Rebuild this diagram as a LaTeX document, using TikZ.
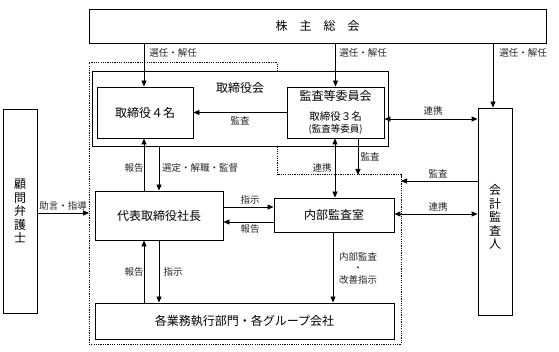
\documentclass[tikz,border=0pt]{standalone}
\usepackage{fontspec}
\setmainfont{Noto Sans CJK JP}
\usetikzlibrary{arrows.meta}
\newcommand{\fsz}[1]{\fontsize{#1}{#1}\selectfont}
\begin{document}
\begin{tikzpicture}[x=1pt,y=-1pt,
  box/.style={draw, line width=0.9pt, inner sep=0pt, font=\fsz{12}},
  arr/.style={line width=0.9pt, -{Triangle[length=6pt,width=5pt]}},
  darr/.style={line width=0.9pt, {Triangle[length=6pt,width=5pt]}-{Triangle[length=6pt,width=5pt]}},
  lab/.style={font=\fsz{9.5}, inner sep=1pt, text=black!85},
  vtext/.style={align=center, inner sep=0pt, font=\fontsize{12}{13.5}\selectfont},
  dotline/.style={line width=1pt, dash pattern=on 1.2pt off 1.1pt}
]
\useasboundingbox (0,0) rectangle (559,352);

% dotted region
\coordinate (dTL) at (89,63);
\coordinate (dTM) at (277,63);
\coordinate (dMM) at (277,175);
\coordinate (dMR) at (401,175);
\coordinate (dBR) at (401,344);
\coordinate (dBL) at (89,344);
\draw[dotline] (dTL) -- (dTM) -- (dMM) -- (dMR) -- (dBR) -- (dBL) -- cycle;

% helper coordinates
\coordinate (xA) at (144,0);
\coordinate (xB) at (159,0);
\coordinate (xC) at (335,0);
\coordinate (xC2) at (333,0);
\coordinate (xD) at (358,0);
\coordinate (xE) at (493,0);
\coordinate (yR) at (0,119);
\coordinate (yS) at (0,181);
\coordinate (yT) at (0,214);
\coordinate (yU) at (0,207);
\coordinate (yV) at (0,222);
\coordinate (yW) at (0,213);

% boxes
\node[box, fill=white, minimum width=457pt, minimum height=34pt] (soukai) at (317.5,26) {株　主　総　会};
\node[box, fill=white, minimum width=296pt, minimum height=75pt] (torikai) at (240,108.5) {};
\node[font=\fsz{12}, inner sep=0pt] (torikaiT) at (240,88) {取締役会};
\node[box, minimum width=96pt, minimum height=51pt] (tori4) at (145,112.5) {取締役４名};
\node[box, minimum width=97pt, minimum height=51pt, align=center] (kansa) at (335.5,112.5)
  {\fsz{12}監査等委員会\\[8pt]\fsz{10.5}取締役３名\\[0pt]\fsz{9.5}(監査等委員)};
\node[box, minimum width=34pt, minimum height=207pt] (kaikei) at (495,211.5) {};
\node[vtext] (kaikeiT) at (495,217) {会\\計\\監\\査\\人};
\node[box, minimum width=34pt, minimum height=204pt] (komon) at (20,211) {};
\node[vtext] (komonT) at (20,211) {顧\\問\\弁\\護\\士};
\node[box, minimum width=128pt, minimum height=49pt] (daihyo) at (159,215.5) {代表取締役社長};
\node[box, minimum width=120pt, minimum height=34pt] (naibu) at (334,215) {内部監査室};
\node[box, minimum width=299pt, minimum height=36pt] (gyomu) at (244.5,321) {各業務執行部門・各グループ会社};

% connectors
\draw[arr] (xA |- soukai.south) -- (xA |- tori4.north);
\node[lab] (l1) at (173,53) {選任・解任};
\draw[arr] (kansa.north |- soukai.south) -- (kansa.north);
\node[lab] (l2) at (363,53) {選任・解任};
\draw[arr] (xE |- soukai.south) -- (xE |- kaikei.north);
\node[lab] (l3) at (523,53) {選任・解任};

\draw[arr] (kansa.west) -- (tori4.east);
\node[lab] (l4) at (240,121) {監査};
\draw[darr] (kansa.east |- yR) -- (kaikei.west |- yR);
\node[lab] (l5) at (433,111) {連携};
\draw[arr] (kaikei.west |- yS) -- (dMR |- yS);
\node[lab] (l6) at (438,174) {監査};
\draw[darr] (naibu.east |- yT) -- (kaikei.west |- yT);
\node[lab] (l7) at (438,207) {連携};

\draw[arr] (xD |- kansa.south) -- (xD |- dMR);
\node[lab] (l8) at (370,157) {監査};
\draw[darr] (xC |- kansa.south) -- (xC |- naibu.north);
\node[lab] (l9) at (322,168) {連携};

\draw[arr] (xA |- daihyo.north) -- (xA |- tori4.south);
\node[lab] (l10) at (134,168) {報告};
\draw[arr] (xB |- torikai.south) -- (xB |- daihyo.north);
\node[lab] (l11) at (200,168) {選定・解職・監督};

\draw[arr] (daihyo.east |- yU) -- (naibu.west |- yU);
\node[lab] (l12) at (250,200) {指示};
\draw[arr] (naibu.west |- yV) -- (daihyo.east |- yV);
\node[lab] (l13) at (250,229) {報告};

\draw[arr] (xA |- gyomu.north) -- (xA |- daihyo.south);
\node[lab] (l14) at (134,272) {報告};
\draw[arr] (xB |- daihyo.south) -- (xB |- gyomu.north);
\node[lab] (l15) at (173,272) {指示};

\draw[arr] (xC2 |- naibu.south) -- (xC2 |- gyomu.north);
\node[lab, align=center, font=\fontsize{9.5}{11.5}\selectfont] (l16) at (358,268) {内部監査\\・\\改善指示};

\draw[arr] (komon.east |- yW) -- (dBL |- yW);
\node[lab] (l17) at (63,206) {助言・指導};
\end{tikzpicture}
\end{document}
